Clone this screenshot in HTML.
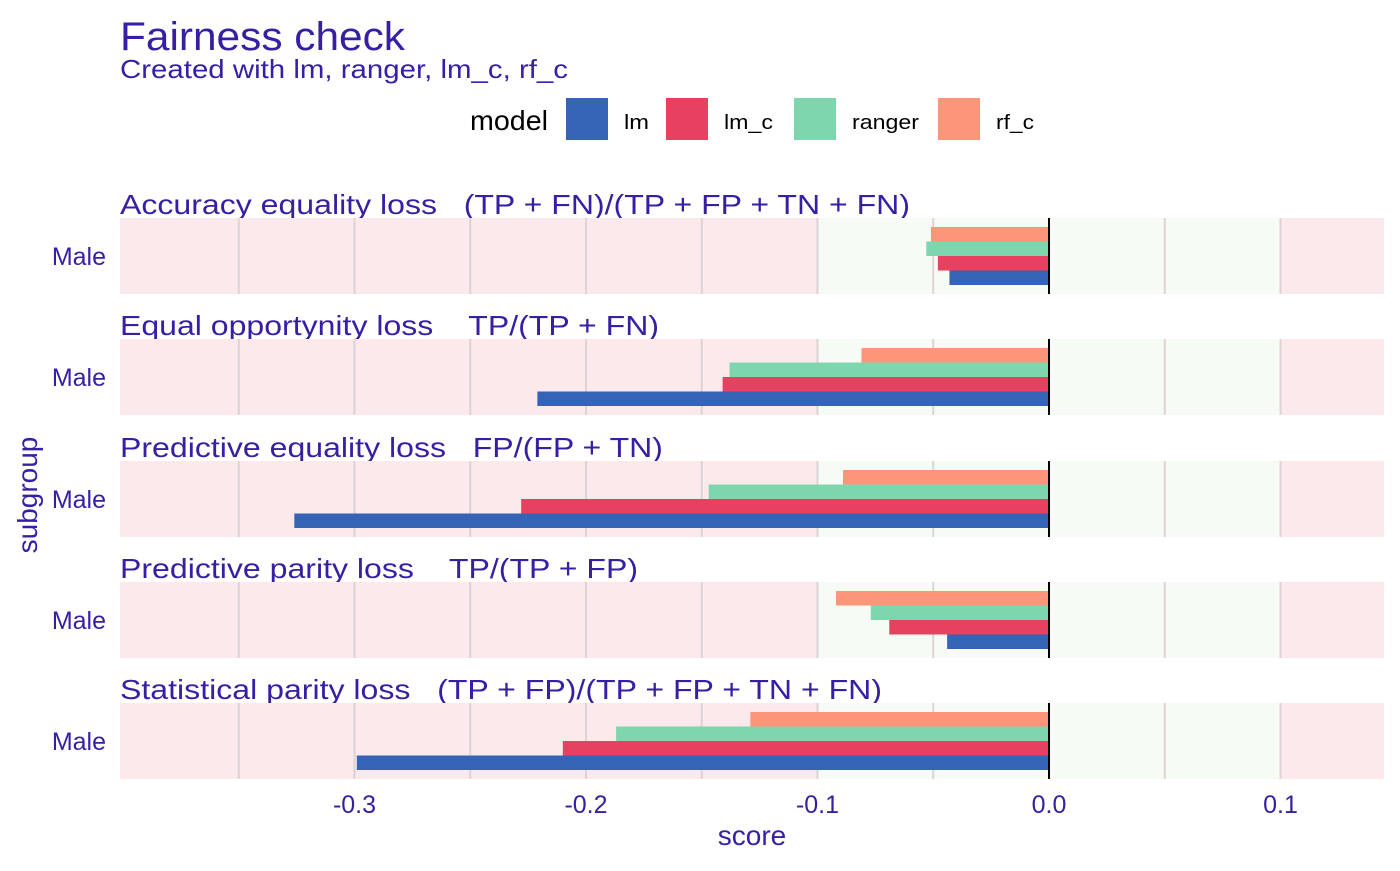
<!DOCTYPE html>
<html><head><meta charset="utf-8">
<style>
body{margin:0;background:#fff;}
svg text{font-family:"Liberation Sans",Arial,sans-serif;white-space:pre;}
</style></head>
<body>
<svg id="chart" width="1400" height="866" xmlns="http://www.w3.org/2000/svg" xml:space="preserve">
<text x="120" y="50" font-size="40" fill="#371ea3" textLength="285" lengthAdjust="spacingAndGlyphs">Fairness check</text>
<text x="120" y="78" font-size="26" fill="#371ea3" textLength="448" lengthAdjust="spacingAndGlyphs">Created with lm, ranger, lm_c, rf_c</text>
<g id="legend"></g>
<g id="panels"></g>
<g id="xaxis"></g>
<text x="752" y="845" font-size="28" fill="#371ea3" text-anchor="middle">score</text>
<text transform="translate(37,495) rotate(-90)" font-size="28" fill="#371ea3" text-anchor="middle">subgroup</text>
</svg>
<script>
const metrics=["Accuracy equality loss   (TP + FN)/(TP + FP + TN + FN)","Equal opportynity loss    TP/(TP + FN)","Predictive equality loss   FP/(FP + TN)","Predictive parity loss    TP/(TP + FP)","Statistical parity loss   (TP + FP)/(TP + FP + TN + FN)"];
const titleWidths=[790,539,543,518,762];
const models=["rf_c","ranger","lm_c","lm"];
const legendOrder=["lm","lm_c","ranger","rf_c"];
const colors={lm:"#3563b5",lm_c:"#e8415f",ranger:"#7dd6ad",rf_c:"#fd957a"};
const rf_c=[-0.051,-0.081,-0.089,-0.092,-0.129];
const ranger=[-0.053,-0.138,-0.147,-0.077,-0.187];
const lm_c=[-0.048,-0.141,-0.228,-0.069,-0.210];
const lm=[-0.043,-0.221,-0.326,-0.044,-0.299];
const ticks=[-0.3,-0.2,-0.1,0.0,0.1];
const tickLabels=["-0.3","-0.2","-0.1","0.0","0.1"];
const grid=[-0.35,-0.3,-0.25,-0.2,-0.15,-0.1,-0.05,0.05,0.1];
const series={rf_c,ranger,lm_c,lm};
const NS="http://www.w3.org/2000/svg";
const X=v=>1049+v*2315;
const L=120,R=1384;
function mk(tag,attrs,parent){const e=document.createElementNS(NS,tag);for(const k in attrs)e.setAttribute(k,attrs[k]);parent.appendChild(e);return e;}
const panels=document.getElementById('panels');
const tops=[218,339,461,582,703],PH=76;
metrics.forEach((m,i)=>{
  const g=mk('g',{},panels);
  
  
  const t=tops[i];
  const st=mk('text',{x:120,y:t-4,"font-size":28,fill:"#371ea3",textLength:titleWidths[i],lengthAdjust:"spacingAndGlyphs"},g);
  st.textContent=m;
  
  
  const bg=mk('rect',{x:L,y:t,width:R-L,height:PH,fill:"#fce9ec"},g);
  
  
  const ok=mk('rect',{x:X(-0.1),y:t,width:X(0.1)-X(-0.1),height:PH,fill:"#f6fbf5"},g);
  
  
  grid.forEach(v=>{const ln=mk('line',{x1:X(v),x2:X(v),y1:t,y2:t+PH,stroke:"#ddd3d4","stroke-width":2},g);
    
    });
  const bh=14.5,b0=t+9;
  models.forEach((md,j)=>{
    const v=series[md][i];
    const r=mk('rect',{x:X(v),y:b0+j*bh,width:X(0)-X(v),height:bh,fill:colors[md]},g);
    
    
  });
  const z=mk('line',{x1:X(0),x2:X(0),y1:t,y2:t+PH,stroke:"#000","stroke-width":2},g);
  
  
  const yl=mk('text',{x:106,y:t+PH/2+9,"font-size":25,fill:"#371ea3","text-anchor":"end"},g);
  yl.textContent="Male";
  
  
});
const xa=document.getElementById('xaxis');
ticks.forEach((v,i)=>{const t=mk('text',{x:X(v),y:813,"font-size":25,fill:"#371ea3","text-anchor":"middle"},xa);
  t.textContent=tickLabels[i];
  
  });
const lg=document.getElementById('legend');
const lt=mk('text',{x:470,y:130,"font-size":28,fill:"#000",textLength:78,lengthAdjust:"spacingAndGlyphs"},lg);
lt.textContent="model";


const lx=[566,666,794,938];
const lw=[25,49,67,38];
legendOrder.forEach((md,i)=>{
  const r=mk('rect',{x:lx[i],y:98,width:42,height:42,fill:colors[md]},lg);
  
  
  const t=mk('text',{x:lx[i]+58,y:129,"font-size":20,fill:"#000",textLength:lw[i],lengthAdjust:"spacingAndGlyphs"},lg);
  t.textContent=md;
  
  
});
</script>
</body></html>
